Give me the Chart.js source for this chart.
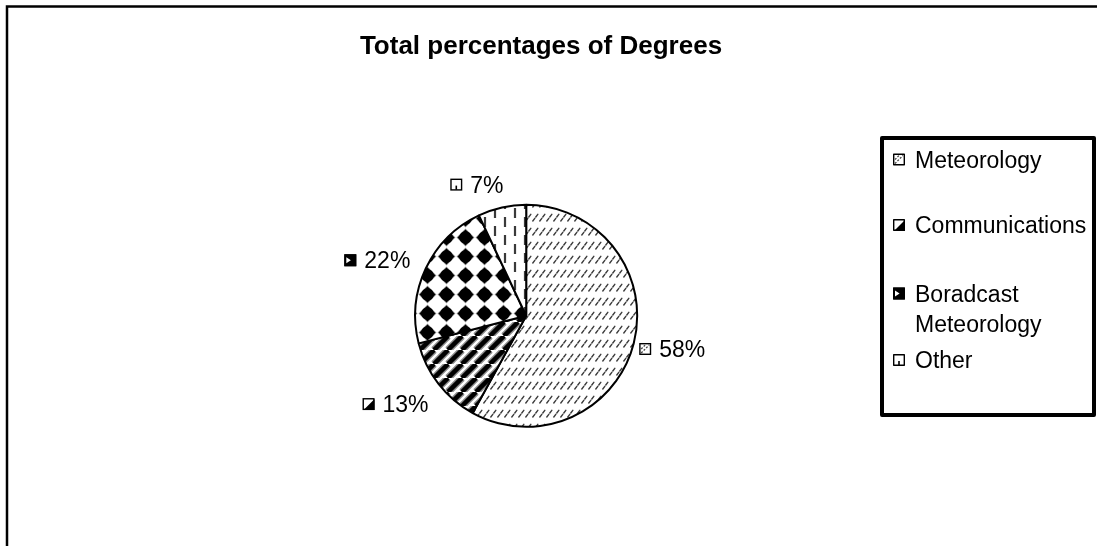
<!DOCTYPE html>
<html>
<head>
<meta charset="utf-8">
<script src="https://cdn.jsdelivr.net/npm/chart.js@4.4.1/dist/chart.umd.min.js"></script>
<style>
  html, body { margin: 0; padding: 0; background: #fff; }
  #wrap { width: 1097px; height: 546px; position: relative; }
</style>
</head>
<body>
<div id="wrap"><canvas id="c"></canvas></div>
<script>
// ---- data ----
const chartTitle = 'Total percentages of Degrees';
const categories = ['Meteorology', 'Communications', 'Boradcast Meteorology', 'Other'];
const shares = [58, 13, 22, 7];

// ---- look ----
const FONT = "'Liberation Sans', Arial, Helvetica, sans-serif";
const TEXT_PX = 23;
const ICON = 12;
const ICON_GAP = 8;
const LABEL_GAP = 15;
const labelShift = [[-8, -1], [-5, 4], [-5, 3], [-16, 3]];

const canvas = document.getElementById('c');
const ctx0 = canvas.getContext('2d');

function tile(w, h, paint) {
  const c = document.createElement('canvas');
  c.width = w; c.height = h;
  const g = c.getContext('2d');
  g.fillStyle = '#fff';
  g.fillRect(0, 0, w, h);
  paint(g, w, h);
  return ctx0.createPattern(c, 'repeat');
}

// dashed upward diagonals in rows
const patMeteo = tile(7, 14, (g) => {
  g.strokeStyle = '#3c3c3c';
  g.lineWidth = 1.4;
  g.lineCap = 'round';
  g.beginPath();
  g.moveTo(0.8, 11); g.lineTo(2.8, 8.3);
  g.moveTo(3.8, 7); g.lineTo(5.8, 4.3);
  g.stroke();
});

// wide upward diagonal stripes
const patComm = tile(14, 14, (g, w, h) => {
  const stripe = (color, width) => {
    g.strokeStyle = color;
    g.lineWidth = width;
    g.beginPath();
    for (const k of [-1, 0, 1]) {
      g.moveTo(k * w, h);
      g.lineTo(k * w + w, 0);
    }
    g.stroke();
  };
  stripe('#8a8a8a', 7.5);
  stripe('#000', 4.5);
});

// solid diamonds on a square grid
const patBroad = tile(19, 19, (g, w, h) => {
  const cx = w / 2, cy = h / 2;
  const diamond = (r, color) => {
    g.fillStyle = color;
    g.beginPath();
    g.moveTo(cx, cy - r); g.lineTo(cx + r, cy); g.lineTo(cx, cy + r); g.lineTo(cx - r, cy);
    g.closePath();
    g.fill();
  };
  diamond(9, '#9a9a9a');
  diamond(8, '#000');
  g.beginPath();
  g.arc(cx, cy, 6.2, 0, Math.PI * 2);
  g.fill();
});

// staggered vertical dashes
const patOther = tile(20, 18, (g) => {
  g.strokeStyle = '#3a3a3a';
  g.lineWidth = 2.2;
  g.beginPath();
  g.moveTo(5, 1); g.lineTo(5, 11);
  g.moveTo(15, 10); g.lineTo(15, 20);
  g.moveTo(15, -8); g.lineTo(15, 2);
  g.stroke();
});

const fills = [patMeteo, patComm, patBroad, patOther];

// miniature swatch used by the legend and the value labels
function drawIcon(ctx, i, x, y, s) {
  ctx.save();
  ctx.fillStyle = '#fff';
  ctx.fillRect(x, y, s, s);
  if (i === 0) {
    ctx.strokeStyle = '#444';
    ctx.lineWidth = 1.3;
    ctx.setLineDash([2, 1.5]);
    ctx.beginPath();
    ctx.moveTo(x + 2, y + s - 2); ctx.lineTo(x + s - 2, y + 2);
    ctx.moveTo(x + 2, y + s / 2); ctx.lineTo(x + s / 2, y + 2);
    ctx.stroke();
    ctx.setLineDash([]);
  } else if (i === 1) {
    ctx.fillStyle = '#000';
    ctx.beginPath();
    ctx.moveTo(x + s, y + 1); ctx.lineTo(x + s, y + s); ctx.lineTo(x + 1, y + s);
    ctx.closePath();
    ctx.fill();
  } else if (i === 2) {
    ctx.fillStyle = '#000';
    ctx.fillRect(x, y, s, s);
    ctx.fillStyle = '#fff';
    ctx.beginPath();
    ctx.moveTo(x + 2, y + 3); ctx.lineTo(x + s * 0.55, y + s / 2); ctx.lineTo(x + 2, y + s - 3);
    ctx.closePath();
    ctx.fill();
  } else {
    ctx.fillStyle = '#000';
    ctx.fillRect(x + s / 2 - 0.8, y + s - 5, 1.6, 4);
  }
  ctx.strokeStyle = '#000';
  ctx.lineWidth = 1.4;
  ctx.strokeRect(x + 0.7, y + 0.7, s - 1.4, s - 1.4);
  ctx.restore();
}

function wrapWords(ctx, text, maxW) {
  const words = text.split(' ');
  const lines = [];
  let cur = '';
  for (const w of words) {
    const t = cur ? cur + ' ' + w : w;
    if (cur && ctx.measureText(t).width > maxW) { lines.push(cur); cur = w; }
    else cur = t;
  }
  if (cur) lines.push(cur);
  return lines;
}

// value labels beside each slice
const sliceLabels = {
  id: 'sliceLabels',
  afterDatasetsDraw(chart) {
    const ctx = chart.ctx;
    const meta = chart.getDatasetMeta(0);
    ctx.save();
    ctx.font = `${TEXT_PX}px ${FONT}`;
    ctx.textBaseline = 'alphabetic';
    meta.data.forEach((arc, i) => {
      const p = arc.getProps(['x', 'y', 'startAngle', 'endAngle', 'outerRadius'], true);
      const mid = (p.startAngle + p.endAngle) / 2;
      const c = Math.cos(mid), s = Math.sin(mid);
      const txt = shares[i] + '%';
      const w = ICON + ICON_GAP + ctx.measureText(txt).width;
      const h = TEXT_PX;
      const r = p.outerRadius + LABEL_GAP;
      const cx = p.x + c * r + c * w / 2 + labelShift[i][0];
      const cy = p.y + s * r + s * h / 2 + labelShift[i][1];
      const left = cx - w / 2;
      drawIcon(ctx, i, left, cy - ICON / 2, ICON);
      ctx.fillStyle = '#000';
      ctx.fillText(txt, left + ICON + ICON_GAP, cy + 0.358 * TEXT_PX);
    });
    ctx.restore();
  }
};

// outer frame, title and the boxed legend
const decor = {
  id: 'decor',
  afterDraw(chart) {
    const ctx = chart.ctx;
    ctx.save();
    ctx.strokeStyle = '#000';
    ctx.lineWidth = 2.5;
    ctx.beginPath();
    ctx.moveTo(7, 560); ctx.lineTo(7, 6.5); ctx.lineTo(1110, 6.5);
    ctx.stroke();

    ctx.fillStyle = '#000';
    ctx.font = `bold 26px ${FONT}`;
    ctx.textAlign = 'center';
    ctx.textBaseline = 'alphabetic';
    ctx.fillText(chartTitle, 541, 53.5);

    // legend box
    ctx.lineWidth = 4;
    ctx.lineJoin = 'round';
    ctx.strokeRect(882, 138, 212, 277);
    ctx.font = `${TEXT_PX}px ${FONT}`;
    ctx.textAlign = 'left';
    const rowY = [159.5, 225, 293.5, 360];
    const lineH = 30;
    categories.forEach((name, i) => {
      const lines = wrapWords(ctx, name, 176);
      drawIcon(ctx, i, 893, rowY[i] - ICON / 2, ICON);
      lines.forEach((ln, k) => {
        ctx.fillText(ln, 915, rowY[i] + k * lineH + 0.358 * TEXT_PX);
      });
    });
    ctx.restore();
  }
};

new Chart(canvas, {
  type: 'pie',
  data: {
    labels: categories,
    datasets: [{
      data: shares,
      backgroundColor: fills,
      borderColor: '#000',
      borderWidth: 2,
      radius: 111
    }]
  },
  options: {
    responsive: true,
    maintainAspectRatio: false,
    animation: false,
    events: [],
    layout: { padding: { left: 300, right: 344.6, top: 160, bottom: 74.4 } },
    plugins: {
      legend: { display: false },
      title: { display: false },
      tooltip: { enabled: false }
    }
  },
  plugins: [sliceLabels, decor]
});
</script>
</body>
</html>
